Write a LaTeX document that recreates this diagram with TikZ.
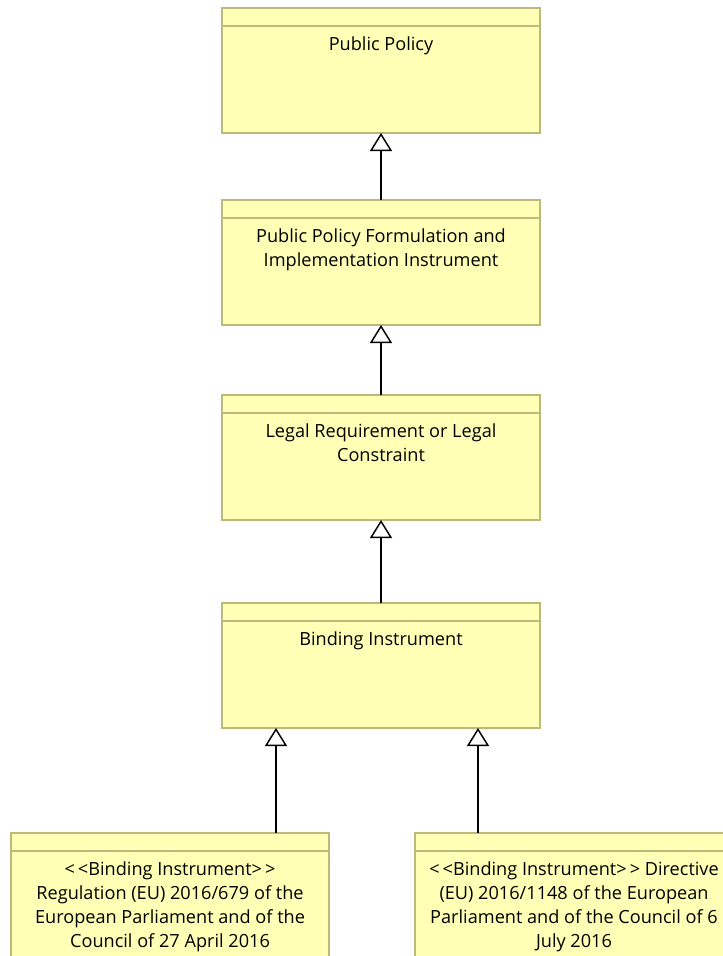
\documentclass[tikz,border=0pt]{standalone}
\usepackage{fontspec}
\setmainfont{Open Sans}
\usetikzlibrary{arrows.meta,positioning}
\definecolor{boxfill}{RGB}{255,255,181}
\definecolor{boxline}{RGB}{186,186,124}

\begin{document}
\begin{tikzpicture}[gen/.style={-{Triangle[open,length=13.5pt,width=16.5pt,fill=white]}, line width=1.1pt},
    classbox/.style={draw=boxline, fill=boxfill, line width=1.3pt, minimum width=238.5pt, minimum height=93.75pt, inner sep=0pt, outer sep=0pt,
      path picture={\draw[boxline, line width=1.4pt] ([yshift=-13.5pt]path picture bounding box.north west) -- ([yshift=-13.5pt]path picture bounding box.north east);}},
    title/.style={anchor=north, yshift=-21pt, align=center, inner sep=0pt, font=\fontsize{13.6}{18}\selectfont}]
    \useasboundingbox (0,0) rectangle (542.25pt,-717pt);

    \node[classbox, label={[title]north:{Public Policy}}] (policy) at (285.75pt,-52.875pt) {};
    \node[classbox, label={[title]north:{Public Policy Formulation and\\Implementation Instrument}}] (formulation) [below=50.25pt of policy] {};
    \node[classbox, label={[title]north:{Legal Requirement or Legal\\Constraint}}] (legal) [below=52.5pt of formulation] {};
    \node[classbox, label={[title]north:{Binding Instrument}}] (binding) [below=62.25pt of legal] {};
    \node[classbox, label={[title]north:{<\,<Binding Instrument>\,>\\Regulation (EU) 2016/679 of the\\European Parliament and of the\\Council of 27 April 2016}}] (regulation) [below=78.75pt of binding, xshift=-158.25pt] {};
    \node[classbox, label={[title]north:{<\,<Binding Instrument>\,> Directive\\(EU) 2016/1148 of the European\\Parliament and of the Council of 6\\July 2016}}] (directive) [below=78.75pt of binding, xshift=144.75pt] {};

    \coordinate (regtip) at ([xshift=-78.75pt]binding.south);
    \coordinate (dirtip) at ([xshift=72.75pt]binding.south);

    \draw[gen] (formulation) -- (policy);
    \draw[gen] (legal) -- (formulation);
    \draw[gen] (binding) -- (legal);
    \draw[gen] (regulation.north -| regtip) -- (regtip);
    \draw[gen] (directive.north -| dirtip) -- (dirtip);
\end{tikzpicture}
\end{document}
